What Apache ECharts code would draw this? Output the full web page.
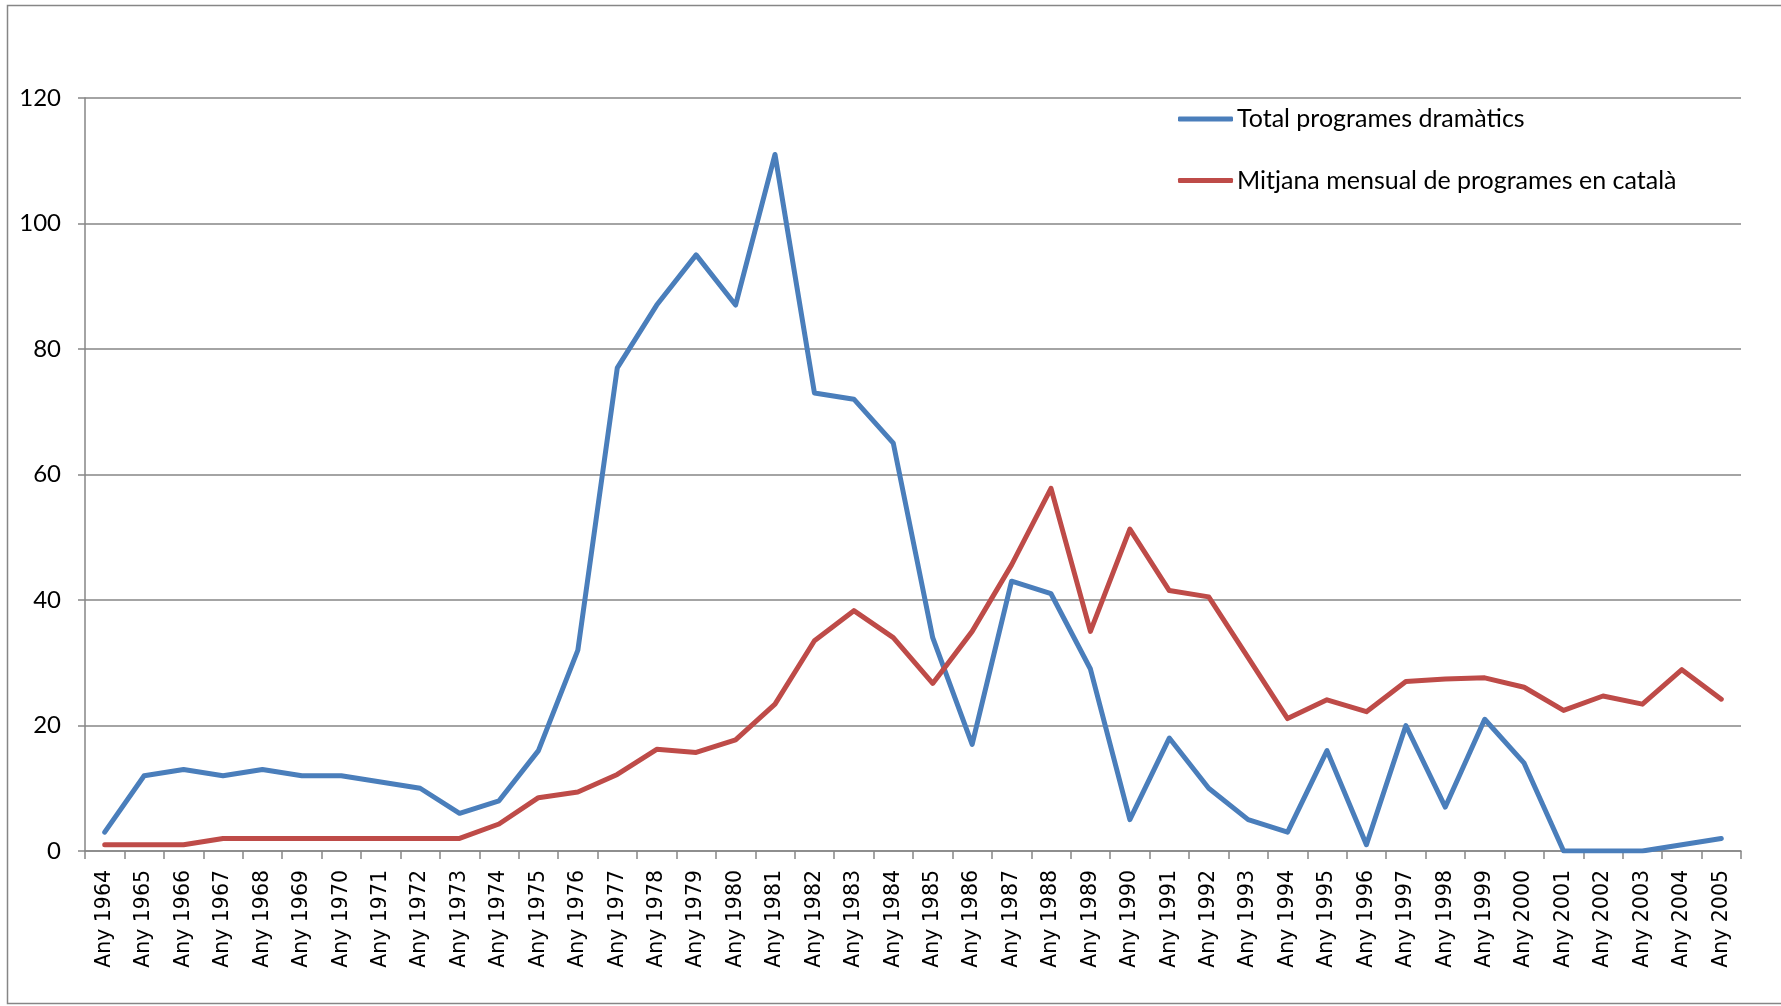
<!DOCTYPE html>
<html>
<head>
<meta charset="utf-8">
<script src="https://cdn.jsdelivr.net/npm/echarts@6/dist/echarts.min.js"></script>
<style>
html,body{margin:0;padding:0;background:#fff;}
#chart{width:1781px;height:1006px;}
</style>
</head>
<body>
<div id="chart"></div>
<script>
const years = [];
for (let y = 1964; y <= 2005; y++) years.push('Any ' + y);

const seriesNames = ['Total programes dramàtics', 'Mitjana mensual de programes en català'];

const totalDramatics = [3, 12, 13, 12, 13, 12, 12, 11, 10, 6, 8, 16, 32, 77, 87, 95, 87, 111, 73, 72, 65, 34, 17, 43, 41, 29, 5, 18, 10, 5, 3, 16, 1, 20, 7, 21, 14, 0, 0, 0, 1, 2];

const monthlyCatalan = [1, 1, 1, 2, 2, 2, 2, 2, 2, 2, 4.3, 8.5, 9.4, 12.2, 16.2, 15.7, 17.7, 23.4, 33.5, 38.3, 34, 26.7, 35, 45.6, 57.8, 35, 51.3, 41.5, 40.5, 30.8, 21.1, 24.1, 22.2, 27, 27.4, 27.6, 26.1, 22.4, 24.7, 23.4, 28.9, 24.2];

const yTicks = { min: 0, max: 120, interval: 20 };

const chart = echarts.init(document.getElementById('chart'), null, { renderer: 'canvas' });
const gray = '#868686';
chart.setOption({
  backgroundColor: '#ffffff',
  animation: false,
  graphic: [{
    type: 'rect',
    shape: { x: 7.5, y: 5.5, width: 1800, height: 998 },
    style: { fill: 'none', stroke: gray, lineWidth: 1.5 },
    silent: true, z: 0
  }],
  grid: { left: 85, right: 40, top: 98, bottom: 155, containLabel: false },
  legend: {
    orient: 'vertical',
    left: 1178,
    top: 104,
    padding: 0,
    itemWidth: 55,
    itemHeight: 5,
    itemGap: 31.5,
    icon: 'roundRect',
    textStyle: { fontFamily: 'Lato', fontSize: 25, color: '#000', lineHeight: 30, padding: [0, 0, 0, -1] },
    data: seriesNames
  },
  xAxis: {
    type: 'category',
    data: years,
    boundaryGap: true,
    axisLine: { lineStyle: { color: gray, width: 1.5 } },
    axisTick: { show: true, interval: 0, length: 8, lineStyle: { color: gray, width: 1.5 } },
    axisLabel: { interval: 0, rotate: 90, margin: 19, fontFamily: 'DejaVu Sans', fontSize: 20.5, color: '#000' },
    splitLine: { show: false }
  },
  yAxis: {
    type: 'value',
    min: yTicks.min, max: yTicks.max, interval: yTicks.interval,
    axisLine: { show: true, lineStyle: { color: gray, width: 1.5 } },
    axisTick: { show: true, length: 7, lineStyle: { color: gray, width: 1.5 } },
    axisLabel: { margin: 24, fontFamily: 'Lato', fontSize: 24, color: '#000' },
    splitLine: { show: true, lineStyle: { color: gray, width: 1.5 } }
  },
  series: [
    {
      name: seriesNames[0], type: 'line', data: totalDramatics,
      symbol: 'none', smooth: false,
      itemStyle: { color: '#4A7EBB' },
      lineStyle: { color: '#4A7EBB', width: 5, cap: 'round', join: 'round' }
    },
    {
      name: seriesNames[1], type: 'line', data: monthlyCatalan,
      symbol: 'none', smooth: false,
      itemStyle: { color: '#BE4B48' },
      lineStyle: { color: '#BE4B48', width: 5, cap: 'round', join: 'round' }
    }
  ]
});
</script>
</body>
</html>
